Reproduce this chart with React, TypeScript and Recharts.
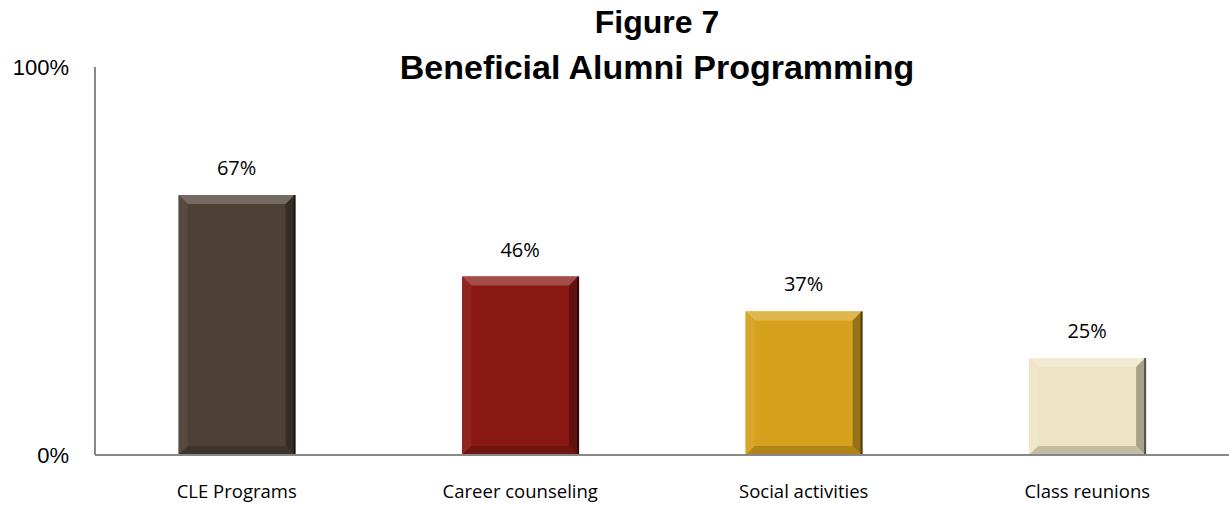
import { BarChart, Bar, XAxis, YAxis, Cell, LabelList } from 'recharts';

// Data for the bar chart
const categories = ['CLE Programs', 'Career counseling', 'Social activities', 'Class reunions'];
const shares = [67, 46, 37, 25];
const yTicks = [0, 100];

// Colors for each bar
const COLORS = ['#4d4034', '#8a1914', '#d6a21e', '#eee4c5'];

const data = categories.map((name, i) => ({ name, value: shares[i] }));

const BODY_FONT = '"Open Sans", Lato, sans-serif';

// mix a hex color toward white (amt > 0) or black (amt < 0)
const shade = (hex: string, amt: number) => {
  const n = parseInt(hex.slice(1), 16);
  const ch = [(n >> 16) & 255, (n >> 8) & 255, n & 255].map((c) =>
    Math.round(amt >= 0 ? c + (255 - c) * amt : c * (1 + amt))
  );
  return `rgb(${ch.join(',')})`;
};

// bevelled bar like the Office chart style
const BevelBar = (props: any) => {
  const { x, y, width: w, height: h, fill } = props;
  const b = 9;
  return (
    <g>
      <rect x={x} y={y} width={w} height={h} fill={fill} />
      <polygon points={`${x},${y} ${x + w},${y} ${x + w - b},${y + b} ${x + b},${y + b}`} fill={shade(fill, 0.22)} />
      <polygon points={`${x},${y} ${x + b},${y + b} ${x + b},${y + h - b} ${x},${y + h}`} fill={shade(fill, 0.05)} />
      <polygon points={`${x + w},${y} ${x + w},${y + h} ${x + w - b},${y + h - b} ${x + w - b},${y + b}`} fill={shade(fill, -0.3)} />
      <polygon points={`${x},${y + h} ${x + w},${y + h} ${x + w - b},${y + h - b} ${x + b},${y + h - b}`} fill={shade(fill, -0.18)} />
      <line x1={x + w} y1={y} x2={x + w} y2={y + h} stroke={shade(fill, -0.65)} strokeWidth={2} />
    </g>
  );
};

const titleStyle: React.CSSProperties = {
  position: 'absolute',
  left: 85,
  width: 1144,
  textAlign: 'center',
  fontFamily: '"Liberation Sans", Arial, sans-serif',
  fontWeight: 'bold',
  color: '#000',
  lineHeight: '36px',
};

const App = () => {
  return (
    <div style={{ position: 'absolute', left: 0, top: 0, width: 1229, height: 506, background: '#fff' }}>
      <BarChart
        width={1229}
        height={506}
        data={data}
        margin={{ top: 67, right: 0, bottom: 0, left: 0 }}
        barCategoryGap="29.5%"
      >
        <XAxis
          dataKey="name"
          height={51}
          tickSize={0}
          tickMargin={30}
          axisLine={{ stroke: '#888', strokeWidth: 2 }}
          tick={{ fill: '#000', fontSize: 18.5, fontFamily: BODY_FONT }}
        />
        <YAxis
          width={95}
          domain={[0, 100]}
          ticks={yTicks}
          tickFormatter={(v) => `${v}%`}
          tickSize={0}
          tickMargin={26}
          axisLine={{ stroke: '#888', strokeWidth: 2 }}
          tick={{ fill: '#000', fontSize: 22, fontFamily: '"Liberation Sans", Arial, sans-serif' }}
        />
        <Bar dataKey="value" shape={BevelBar} isAnimationActive={false}>
          {data.map((_entry, index) => (
            <Cell key={`cell-${index}`} fill={COLORS[index % COLORS.length]} />
          ))}
          <LabelList
            dataKey="value"
            position="top"
            offset={20}
            formatter={(v: any) => `${v}%`}
            style={{ fill: '#000', fontSize: 20, fontFamily: BODY_FONT }}
          />
        </Bar>
      </BarChart>
      <div style={{ ...titleStyle, top: 4, fontSize: 32 }}>Figure 7</div>
      <div style={{ ...titleStyle, top: 49, fontSize: 34 }}>Beneficial Alumni Programming</div>
    </div>
  );
};

export default App;
